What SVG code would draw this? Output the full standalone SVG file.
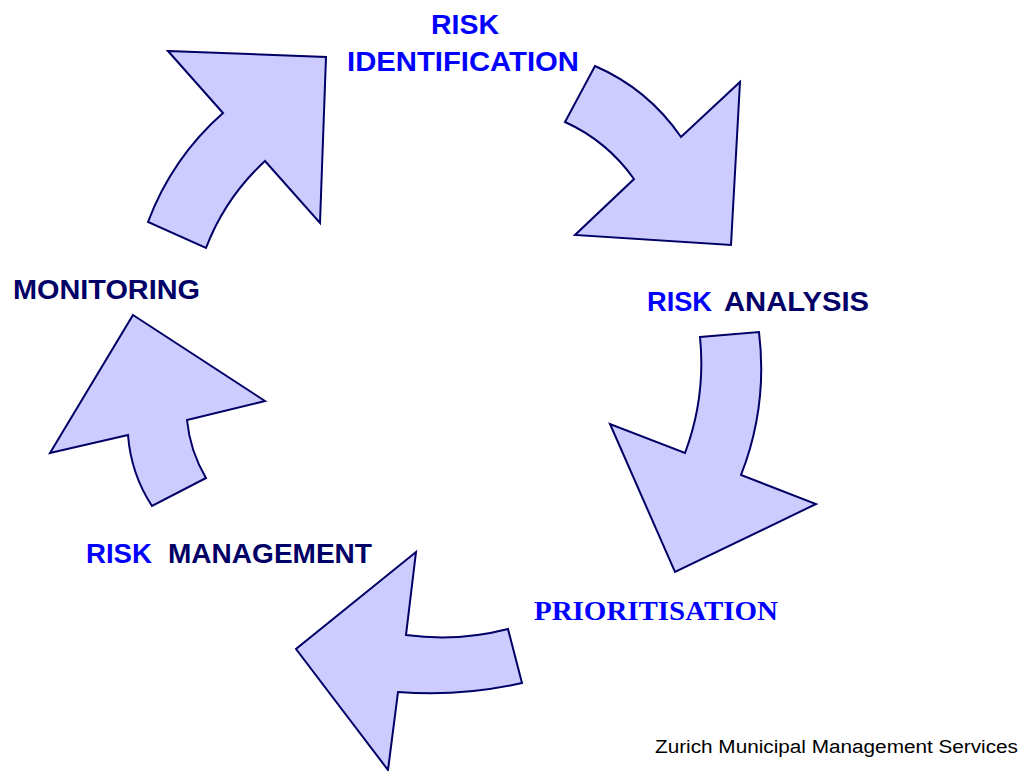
<svg xmlns="http://www.w3.org/2000/svg" width="1033" height="771" viewBox="0 0 1033 771">
<style>
.arrow{fill:#CCCCFF;stroke:#000066;stroke-width:2;stroke-linejoin:miter}
.lbl{font-family:"Liberation Sans",Arial,sans-serif;font-weight:bold;font-size:27px}
.blue{fill:#0000FF}
.navy{fill:#000066}
.serif{font-family:"Liberation Serif","Times New Roman",serif;font-weight:bold;font-size:27px}
.foot{font-family:"Liberation Sans",Arial,sans-serif;font-size:18px;fill:#000000}
</style>
<rect width="1033" height="771" fill="#FFFFFF"/>
<g id="connectors">
<path id="arrow-identification" class="arrow" d="M168,51 L326,57 L320,223 L265,161 Q225,198 206,248 L148,222 Q172,158 223,113 Z"/>
<path id="arrow-analysis" class="arrow" d="M595,66 Q648,89 681,137 L740,82 L731,245 L575,235 L634,179 Q607,141 565,122 Z"/>
<path id="arrow-prioritisation" class="arrow" d="M700,337 L759,332 Q768,406 741,475 L816,504 L675,572 L610,424 L685,453 Q706,397 700,337 Z"/>
<path id="arrow-management" class="arrow" d="M416,552 L406,635 Q458,642 508,629 L522,683 Q461,697 398,692 L388,770 L296,649 Z"/>
<path id="arrow-monitoring" class="arrow" d="M133,315 L265,401 L187,420 Q190,451 206,478 L152,506 Q131,474 128,435 L50,453 Z"/>
</g>
<g id="node-risk-identification">
<text class="lbl blue" x="431" y="34" textLength="68" lengthAdjust="spacingAndGlyphs">RISK</text>
<text class="lbl blue" x="347" y="71" textLength="232" lengthAdjust="spacingAndGlyphs">IDENTIFICATION</text>
</g>
<g id="node-risk-analysis">
<text class="lbl blue" x="647" y="311" textLength="65" lengthAdjust="spacingAndGlyphs">RISK</text>
<text class="lbl navy" x="724" y="311" textLength="145" lengthAdjust="spacingAndGlyphs">ANALYSIS</text>
</g>
<g id="node-prioritisation">
<text class="serif blue" x="534" y="620" textLength="244" lengthAdjust="spacingAndGlyphs">PRIORITISATION</text>
</g>
<g id="node-risk-management">
<text class="lbl blue" x="86" y="563" textLength="66" lengthAdjust="spacingAndGlyphs">RISK</text>
<text class="lbl navy" x="168" y="563" textLength="204" lengthAdjust="spacingAndGlyphs">MANAGEMENT</text>
</g>
<g id="node-monitoring">
<text class="lbl navy" x="13" y="299" textLength="187" lengthAdjust="spacingAndGlyphs">MONITORING</text>
</g>
<g id="footer">
<text class="foot" x="655" y="753" textLength="363" lengthAdjust="spacingAndGlyphs">Zurich Municipal Management Services</text>
</g>
</svg>
